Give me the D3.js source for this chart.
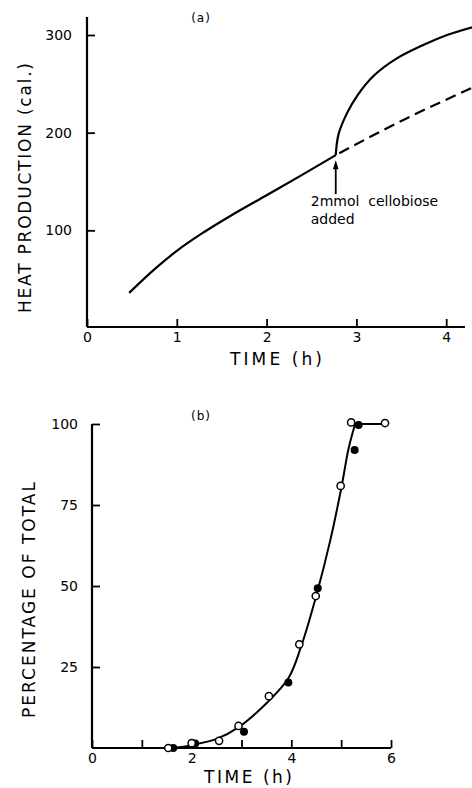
<!DOCTYPE html>
<html><head><meta charset="utf-8">
<script src="https://cdn.jsdelivr.net/npm/d3@7"></script>
<style>
html,body{margin:0;padding:0;background:#fff;}
svg{display:block;}
text{font-family:"DejaVu Sans",sans-serif;fill:#000;}
</style></head>
<body>
<script>
// ---- Panel (a): heat production ----
const aXTicks = [0, 1, 2, 3, 4];
const aYTicks = [100, 200, 300];
const aBefore = [[0.47,36],[0.75,60],[1.0,79],[1.3,98],[1.6,115],[2.0,136],[2.4,157],[2.77,177]];
const aAfter  = [[2.77,177],[2.80,198],[2.89,219],[3.01,238],[3.19,258],[3.45,276],[3.75,290],[4.01,300],[4.29,308]];
const aControl = [[2.77,177],[3.5,212],[4.29,246]];
const aAddTime = 2.77;
const aAddValue = 177;
const aNote = ["2mmol  cellobiose", "added"];

// ---- Panel (b): percentage of total ----
const bXTicks = [0, 1, 2, 3, 4, 5, 6];
const bXLabels = [0, 2, 4, 6];
const bYTicks = [25, 50, 75, 100];
const bOpen   = [[1.53,0],[2.0,1.5],[2.55,2.2],[2.94,6.8],[3.55,16],[4.16,32],[4.49,46.9],[4.99,80.9],[5.20,100.5],[5.88,100.3]];
const bFilled = [[1.63,0],[2.07,1.4],[3.05,5],[3.94,20.2],[4.53,49.3],[5.27,92],[5.35,99.7]];
const bCurve  = [[1.53,0],[1.8,0.3],[2.0,0.9],[2.5,2.8],[2.96,6.6],[3.5,13.8],[3.94,21.5],[4.2,31.5],[4.5,47],[4.78,64],[5.0,80],[5.15,92.5],[5.28,100]];
const bPlateau = [[5.28,100],[5.88,100]];

const W = 472, H = 788;
const svg = d3.select("body").append("svg").attr("width", W).attr("height", H);

function drawAxes(g, x, y, xTicks, xFmt, yTicks, xEnd, yTop, opts) {
  const x0 = x.range()[0];
  const ya = g.append("g").attr("transform", `translate(${x0},0)`)
    .call(d3.axisLeft(y).tickValues(yTicks).tickSizeInner(-8).tickSizeOuter(0).tickPadding(opts.yPad).tickFormat(d3.format("d")));
  ya.select(".domain").remove();
  ya.selectAll("line").attr("stroke", "#000").attr("stroke-width", 1.8);
  ya.selectAll("text").style("font-size", "14px").style("font-family", "DejaVu Sans");
  const xa = g.append("g").attr("transform", `translate(0,${opts.xAxisY})`)
    .call(d3.axisBottom(x).tickValues(xTicks).tickSizeInner(-8).tickSizeOuter(0).tickPadding(opts.xPad).tickFormat(xFmt));
  xa.select(".domain").remove();
  xa.selectAll("line").attr("stroke", "#000").attr("stroke-width", 1.8);
  xa.selectAll("text").style("font-size", "14px").style("font-family", "DejaVu Sans");
  g.append("line").attr("x1", x0).attr("x2", x0).attr("y1", opts.xAxisY).attr("y2", yTop)
    .attr("stroke", "#000").attr("stroke-width", 2.2);
  g.append("line").attr("x1", x0).attr("x2", xEnd).attr("y1", opts.xAxisY).attr("y2", opts.xAxisY)
    .attr("stroke", "#000").attr("stroke-width", 2.2);
}

// ===== Panel (a) =====
const ax = d3.scaleLinear().domain([0, 4]).range([87, 446.2]);
const ay = d3.scaleLinear().domain([0, 300]).range([328, 35]);
const ga = svg.append("g");
drawAxes(ga, ax, ay, aXTicks, d3.format("d"), aYTicks, 465, 17, {yPad: 15, xPad: 5, xAxisY: 327});

const aLine = d3.line().x(d => ax(d[0])).y(d => ay(d[1])).curve(d3.curveMonotoneX);
const aLineC = d3.line().x(d => ax(d[0])).y(d => ay(d[1])).curve(d3.curveCatmullRom.alpha(0.5));
ga.append("path").datum(aBefore).attr("d", aLine).attr("fill", "none").attr("stroke", "#000").attr("stroke-width", 2.2);
ga.append("path").datum(aAfter).attr("d", aLineC).attr("fill", "none").attr("stroke", "#000").attr("stroke-width", 2.2);
ga.append("path").datum(aControl).attr("d", aLine).attr("fill", "none").attr("stroke", "#000")
  .attr("stroke-width", 2.2).attr("stroke-dasharray", "11,6").attr("stroke-dashoffset", -4);

// arrow
const arX = ax(aAddTime), arTip = ay(aAddValue) + 5;
ga.append("line").attr("x1", arX).attr("x2", arX).attr("y1", arTip + 6).attr("y2", arTip + 34)
  .attr("stroke", "#000").attr("stroke-width", 1.8);
ga.append("path").attr("d", `M${arX},${arTip} L${arX-2.8},${arTip+9} L${arX+2.8},${arTip+9} Z`).attr("fill", "#000");
ga.append("text").attr("x", arX - 25).attr("y", arTip + 46).style("font-size", "14px")
  .style("white-space", "pre").text(aNote[0]);
ga.append("text").attr("x", arX - 25).attr("y", arTip + 64).style("font-size", "14px").text(aNote[1]);

ga.append("text").attr("x", 201).attr("y", 22).attr("text-anchor", "middle").style("font-size", "12px")
  .style("letter-spacing", "1px").text("(a)");
ga.append("text").attr("transform", "translate(25,188) rotate(-90)").attr("text-anchor", "middle")
  .attr("dominant-baseline", "central").style("font-size", "17px")
  .attr("textLength", 250).attr("lengthAdjust", "spacing").text("HEAT PRODUCTION (cal.)");
ga.append("text").attr("x", 276).attr("y", 365).attr("text-anchor", "middle").style("font-size", "17px")
  .attr("textLength", 92).attr("lengthAdjust", "spacing").text("TIME (h)");

// ===== Panel (b) =====
const bx = d3.scaleLinear().domain([0, 6]).range([92, 391]);
const by = d3.scaleLinear().domain([0, 100]).range([748, 424]);
const gb = svg.append("g");
drawAxes(gb, bx, by, bXTicks, d => bXLabels.includes(d) ? d : "", bYTicks, 391, 424, {yPad: 14, xPad: 5, xAxisY: 748});

const bLine = d3.line().x(d => bx(d[0])).y(d => by(d[1])).curve(d3.curveCatmullRom.alpha(0.5));
gb.append("path").datum(bCurve).attr("d", bLine).attr("fill", "none").attr("stroke", "#000").attr("stroke-width", 2);
gb.append("path").datum(bPlateau).attr("d", d3.line().x(d => bx(d[0])).y(d => by(d[1])))
  .attr("fill", "none").attr("stroke", "#000").attr("stroke-width", 2);

gb.selectAll("circle.f").data(bFilled).enter().append("circle").attr("class", "f")
  .attr("cx", d => bx(d[0])).attr("cy", d => by(d[1])).attr("r", 4).attr("fill", "#000");
gb.selectAll("circle.o").data(bOpen).enter().append("circle").attr("class", "o")
  .attr("cx", d => bx(d[0])).attr("cy", d => by(d[1])).attr("r", 3.6)
  .attr("fill", "#fff").attr("stroke", "#000").attr("stroke-width", 1.5);

gb.append("text").attr("x", 201).attr("y", 420).attr("text-anchor", "middle").style("font-size", "12px")
  .style("letter-spacing", "1px").text("(b)");
gb.append("text").attr("transform", "translate(28.5,600) rotate(-90)").attr("text-anchor", "middle")
  .attr("dominant-baseline", "central").style("font-size", "17px")
  .attr("textLength", 236).attr("lengthAdjust", "spacing").text("PERCENTAGE OF TOTAL");
gb.append("text").attr("x", 248).attr("y", 783).attr("text-anchor", "middle").style("font-size", "17px")
  .attr("textLength", 88).attr("lengthAdjust", "spacing").text("TIME (h)");
</script>
</body></html>
